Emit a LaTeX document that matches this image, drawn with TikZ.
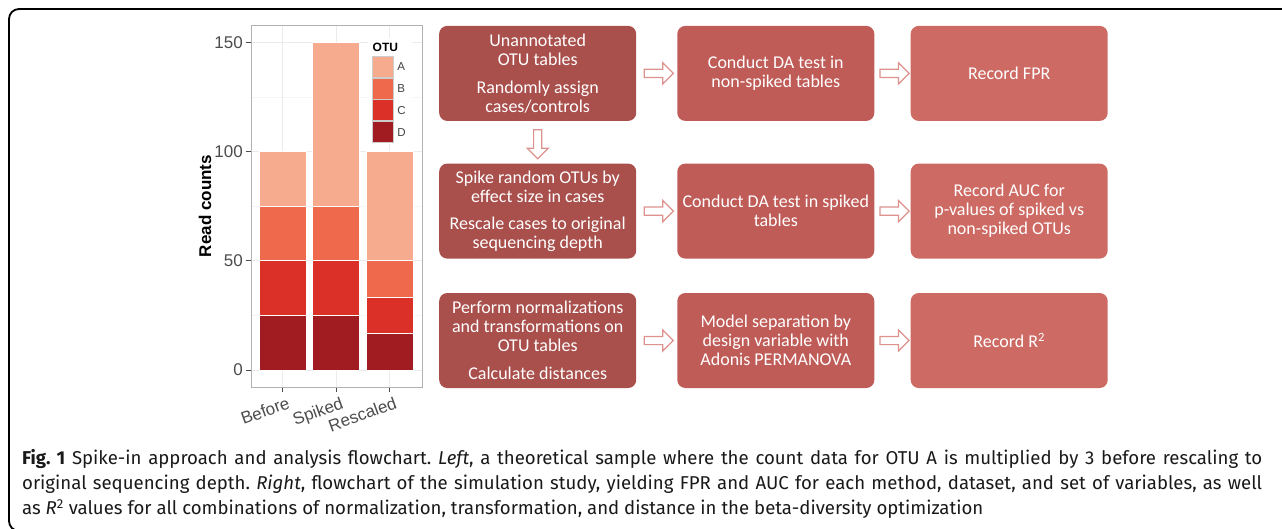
\documentclass[tikz,border=0pt]{standalone}
\usepackage{fontspec}
\setmainfont{Fira Sans}
\newfontfamily\boxfont{Carlito}
\newfontfamily\plotfont{Liberation Sans}
\usetikzlibrary{positioning,shapes.arrows}
\frenchspacing
\definecolor{otuA}{RGB}{246,170,142}
\definecolor{otuB}{RGB}{239,106,76}
\definecolor{otuC}{RGB}{218,48,40}
\definecolor{otuD}{RGB}{160,28,32}
\definecolor{boxone}{RGB}{169,79,76}
\definecolor{boxtwo}{RGB}{192,92,88}
\definecolor{boxthree}{RGB}{205,106,100}
\definecolor{arrowline}{RGB}{221,146,141}
\tikzset{
  flowbox/.style={rounded corners=8pt, minimum width=197pt, minimum height=95pt,
    text=white, align=center, inner sep=2pt, font=\boxfont\fontsize{18}{19}\selectfont},
  flowarrow/.style={single arrow, draw=arrowline, fill=white, line width=1.2pt,
    inner sep=3.5pt, single arrow head extend=6.5pt, minimum height=29pt}
}

\begin{document}
\begin{tikzpicture}[x=1pt, y=-1pt,
  bar/.style={draw=white, line width=0.9pt},
  gridmaj/.style={draw=black!8, line width=0.9pt},
  gridmin/.style={draw=black!4, line width=0.5pt},
  tickmark/.style={draw=black!70, line width=0.8pt},
  ticklabel/.style={font=\plotfont\fontsize{17}{17}\selectfont, text=black!70, inner sep=0pt},
  legkey/.style={draw=black!20, line width=0.8pt, minimum width=20.6pt, minimum height=21pt, inner sep=0pt},
  legtext/.style={font=\plotfont\fontsize{11.5}{12}\selectfont, text=black!75, inner sep=0pt}
]
\useasboundingbox (0,0) rectangle (1282,528);
\draw[line width=1.8pt, rounded corners=10pt] (1290,9) -- (9,9) -- (9,531) -- (40,531);

\begin{scope}[shift={(0,370)}, y=2.185pt]
  \fill[white] (251,-7.8) rectangle (422,157.9);
  \foreach \v in {25,75,125} \draw[gridmin] (251,\v) -- (422,\v);
  \foreach \v in {0,50,100,150} \draw[gridmaj] (251,\v) -- (422,\v);
  \foreach \cx in {282.7,336.2,389.7} \draw[gridmaj] (\cx,-7.8) -- (\cx,157.9);
  \foreach \cx/\tD/\tC/\tB/\tA in {282.7/25/50/75/100, 336.2/25/50/75/150, 389.7/16.67/33.33/50/100} {
    \filldraw[bar, fill=otuD] (\cx-23.5,0) rectangle (\cx+23.5,\tD);
    \filldraw[bar, fill=otuC] (\cx-23.5,\tD) rectangle (\cx+23.5,\tC);
    \filldraw[bar, fill=otuB] (\cx-23.5,\tC) rectangle (\cx+23.5,\tB);
    \filldraw[bar, fill=otuA] (\cx-23.5,\tB) rectangle (\cx+23.5,\tA);
    \draw[tickmark] (\cx,-7.8) -- (\cx,-10.2);
  }
  \draw[black!30, line width=0.8pt] (251,-7.8) rectangle (422,157.9);
  \foreach \v in {0,50,100,150} {
    \draw[tickmark] (245.5,\v) -- (251,\v);
    \node[ticklabel, anchor=east] at (243,\v) {\v};
  }
\end{scope}

\foreach \cx/\lab in {282.7/Before, 336.2/Spiked, 389.7/Rescaled}
  \node[ticklabel, rotate=20, anchor=north east] at (\cx+4,396) {\lab};
\node[font=\plotfont\bfseries\fontsize{17}{17}\selectfont, rotate=90] (ytitle) at (205,206) {Read counts};

\fill[white] (368,38) rectangle (412,144);
\node[legtext, font=\plotfont\bfseries\fontsize{12}{12}\selectfont, text=black, anchor=west] (legtitle) at (372.5,47) {OTU};
\node[legkey, fill=otuA] (keyA) at (383,66.7) {};
\node[legkey, fill=otuB, below=0pt of keyA] (keyB) {};
\node[legkey, fill=otuC, below=0pt of keyB] (keyC) {};
\node[legkey, fill=otuD, below=0pt of keyC] (keyD) {};
\foreach \k in {A,B,C,D}
  \node[legtext, right=3.5pt of key\k] {\k};

\node[flowbox, fill=boxone] (unannot) at (537.7,73.4) {Unannotated\\OTU tables\\[8.6pt]Randomly assign\\cases/controls};
\node[flowbox, fill=boxtwo, right=40.7pt of unannot] (testnon) {Conduct DA test in\\non-spiked tables};
\node[flowbox, fill=boxthree, right=36pt of testnon] (recfpr) {Record FPR};
\node[flowbox, fill=boxone, below=42.3pt of unannot] (spike) {Spike random OTUs by\\effect size in cases\\[8.6pt]Rescale cases to original\\sequencing depth};
\node[flowbox, fill=boxtwo, right=40.7pt of spike] (testspk) {Conduct DA test in spiked\\tables};
\node[flowbox, fill=boxthree, right=36pt of testspk] (recauc) {Record AUC for\\p-values of spiked vs\\non-spiked OTUs};
\node[flowbox, fill=boxone, below=34pt of spike] (normal) {Perform normalizations\\and transformations on\\OTU tables\\[8.6pt]Calculate distances};
\node[flowbox, fill=boxtwo, right=40.7pt of normal] (permanova) {Model separation by\\design variable with\\Adonis PERMANOVA};
\node[flowbox, fill=boxthree, right=36pt of permanova] (recrsq) {Record R\textsuperscript{2}};

\path (unannot) -- node[flowarrow, midway] {} (testnon);
\path (testnon) -- node[flowarrow, midway] {} (recfpr);
\path (unannot) -- node[flowarrow, midway, shape border rotate=270] {} (spike);
\path (spike) -- node[flowarrow, midway] {} (testspk);
\path (testspk) -- node[flowarrow, midway] {} (recauc);
\path (normal) -- node[flowarrow, midway] {} (permanova);
\path (permanova) -- node[flowarrow, midway] {} (recrsq);

\node[anchor=north west, inner sep=0pt, text width=1240pt, align=justify,
  font=\fontsize{18.6}{25}\selectfont, text=black!90] (caption) at (22,449)
  {\textbf{Fig. 1} Spike-in approach and analysis flowchart. \textit{Left}, a theoretical sample where the count data for OTU A is multiplied by 3 before rescaling to\linebreak
  original sequencing depth. \textit{Right}, flowchart of the simulation study, yielding FPR and AUC for each method, dataset, and set of variables, as well\linebreak
  as \textit{R}\textsuperscript{2} values for all combinations of normalization, transformation, and distance in the beta-diversity optimization};
\end{tikzpicture}
\end{document}
